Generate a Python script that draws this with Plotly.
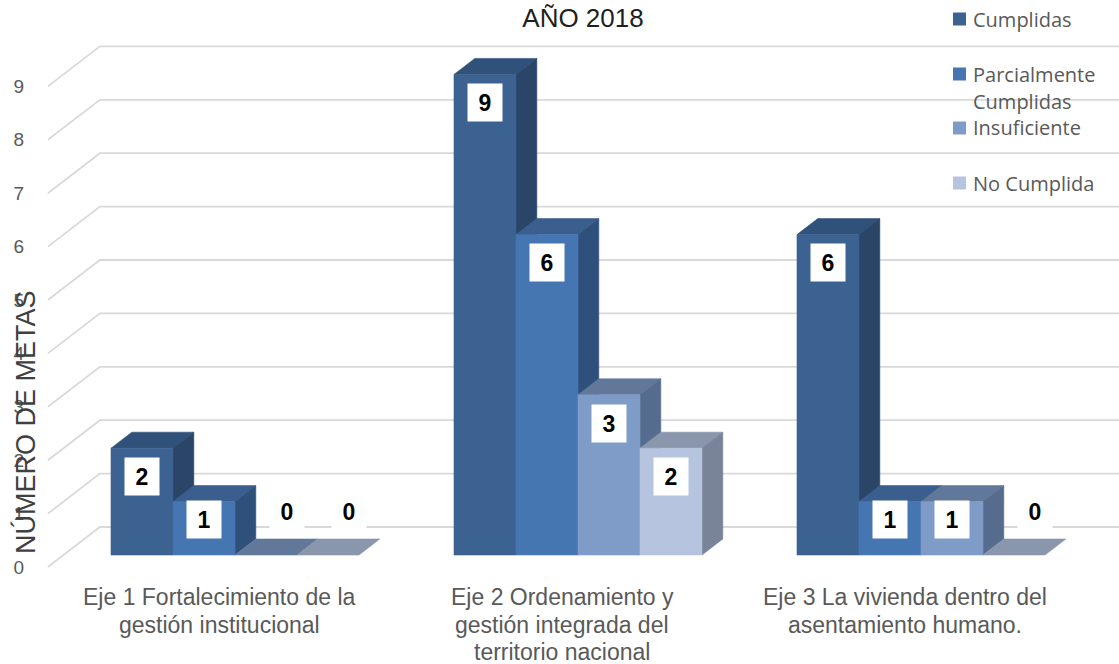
import plotly.graph_objects as go

# ---------------- data ----------------
title_text = "AÑO 2018"
y_title = "NÚMERO DE METAS"
categories = [
    "Eje 1 Fortalecimiento de la<br>gestión institucional",
    "Eje 2 Ordenamiento y<br>gestión integrada del<br>territorio nacional",
    "Eje 3 La vivienda dentro del<br>asentamiento humano.",
]
series_names = ["Cumplidas", "Parcialmente<br>Cumplidas", "Insuficiente", "No Cumplida"]
cumplidas = [2, 9, 6]
parcialmente = [1, 6, 1]
insuficiente = [0, 3, 1]
no_cumplida = [0, 2, 0]
y_ticks = [0, 1, 2, 3, 4, 5, 6, 7, 8, 9]

series_values = [cumplidas, parcialmente, insuficiente, no_cumplida]

# ---------------- styles ----------------
front_colors = ["#3B6290", "#4676B1", "#7F9CC9", "#B7C4DF"]
side_colors = ["#2A4567", "#30507C", "#566C8E", "#7A8498"]
top_colors = ["#30517A", "#3A5E8E", "#62789B", "#8A96AC"]
grid_color = "#D9D9D9"
text_gray = "#595959"

W, H = 1119, 664
ML = 28
PX_X = 343.0      # pixels per category step
PX_Y = 53.4       # pixels per value unit
X0PX = 219.4      # pixel x of first category (front plane)
Y0PX = 567.0      # pixel y of value 0 (front plane)
DXu = 52 / PX_X   # full depth shift in x units
DYu = 40 / PX_Y   # full depth shift in y units
ZF, ZB = 0.3, 0.7 # bar front/back depth
BW = 62 / PX_X    # bar width
n_series = len(series_values)

x_range = [(ML - X0PX) / PX_X, (W - X0PX) / PX_X]
y_range = [-(H - Y0PX) / PX_Y, Y0PX / PX_Y]


def proj(x, v, z):
    return x + z * DXu, v + z * DYu


def ypx(py):
    return (Y0PX - py) / PX_Y


def paper_x(px):
    return (px - ML) / (W - ML)


def paper_y(py):
    return 1 - py / H


fig = go.Figure()

# ---------------- walls / gridlines ----------------
gx, gy = [], []
floor_left = -0.5
right_edge = x_range[1]
for v in y_ticks:
    a = proj(floor_left, v, 0)
    b = proj(floor_left, v, 1)
    gx += [a[0], b[0], right_edge, None]
    gy += [a[1], b[1], b[1], None]
fig.add_trace(go.Scatter(x=gx, y=gy, mode="lines",
                         line=dict(color=grid_color, width=1.8),
                         hoverinfo="skip", showlegend=False))


def poly(pts, color):
    xs = [p[0] for p in pts] + [pts[0][0]]
    ys = [p[1] for p in pts] + [pts[0][1]]
    fig.add_trace(go.Scatter(x=xs, y=ys, mode="lines", fill="toself",
                             fillcolor=color, line=dict(color=color, width=0.6),
                             hoverinfo="skip", showlegend=False))


annotations = []

# ---------------- bars ----------------
for ci in range(len(categories)):
    for si in range(n_series):
        v = series_values[si][ci]
        L = ci + (si - n_series / 2) * BW
        R = L + BW
        top = [proj(L, v, ZF), proj(R, v, ZF), proj(R, v, ZB), proj(L, v, ZB)]
        poly(top, top_colors[si])
        if v > 0:
            side = [proj(R, 0, ZF), proj(R, 0, ZB), proj(R, v, ZB), proj(R, v, ZF)]
            poly(side, side_colors[si])
            front = [proj(L, 0, ZF), proj(R, 0, ZF), proj(R, v, ZF), proj(L, v, ZF)]
            poly(front, front_colors[si])
            lx, ly = proj((L + R) / 2, v, ZF)
            ly -= min(0.53, 0.34 * v)
        else:
            lx, ly = proj((L + R) / 2, v, ZB)
            ly += 0.52
        annotations.append(dict(
            x=lx, y=ly, xref="x", yref="y", text=str(v), showarrow=False,
            font=dict(family="Arial, Liberation Sans", size=23, color="#000000", weight="bold"),
            bgcolor="#FFFFFF", width=32, height=35, xanchor="center", yanchor="middle"))

# ---------------- category labels ----------------
for ci, cat in enumerate(categories):
    cx, _ = proj(ci, 0, 0)
    for li, line in enumerate(cat.split("<br>")):
        annotations.append(dict(
            x=cx, y=ypx(597 + 27.5 * li), xref="x", yref="y", text=line,
            showarrow=False, xanchor="center", yanchor="middle",
            font=dict(family="Arial, Liberation Sans", size=23, color=text_gray)))

# ---------------- y title ----------------
annotations.append(dict(
    x=paper_x(25), y=paper_y(422), xref="paper", yref="paper", text=y_title,
    showarrow=False, textangle=-90, xanchor="center", yanchor="middle",
    font=dict(family="Arial, Liberation Sans", size=27, color="#404040")))

# ---------------- legend ----------------
shapes = []
legend_rows = [19, 74, 128, 183]
for si, name in enumerate(series_names):
    py = legend_rows[si]
    shapes.append(dict(type="rect", xref="paper", yref="paper",
                       x0=paper_x(953), x1=paper_x(966),
                       y0=paper_y(py + 6.5), y1=paper_y(py - 6.5),
                       fillcolor=front_colors[si], line=dict(width=0)))
    for li, line in enumerate(name.split("<br>")):
        annotations.append(dict(
            x=paper_x(971), y=paper_y(py + 27 * li), xref="paper", yref="paper",
            text=line, showarrow=False, xanchor="left", yanchor="middle",
            font=dict(family="Open Sans, Noto Sans", size=20, color=text_gray)))

fig.update_layout(
    width=W, height=H,
    margin=dict(l=ML, r=0, t=0, b=0),
    paper_bgcolor="#FFFFFF", plot_bgcolor="#FFFFFF",
    title=dict(text=title_text, x=583 / W, xref="container", xanchor="center",
               y=1 - 18 / H, yref="container", yanchor="middle",
               font=dict(family="Arial, Liberation Sans", size=26, color="#1F1F1F")),
    xaxis=dict(range=x_range, visible=False, fixedrange=True),
    yaxis=dict(range=y_range, tickvals=y_ticks, ticktext=[str(t) for t in y_ticks],
               showgrid=False, zeroline=False, showline=False, ticks="",
               ticklabelstandoff=3, fixedrange=True,
               tickfont=dict(family="Arial, Liberation Sans", size=19, color=text_gray)),
    annotations=annotations,
    shapes=shapes,
    showlegend=False,
)

fig.write_html("out.html", config={"displayModeBar": False},
               post_script="document.body.style.margin='0';document.body.style.overflow='hidden';")
